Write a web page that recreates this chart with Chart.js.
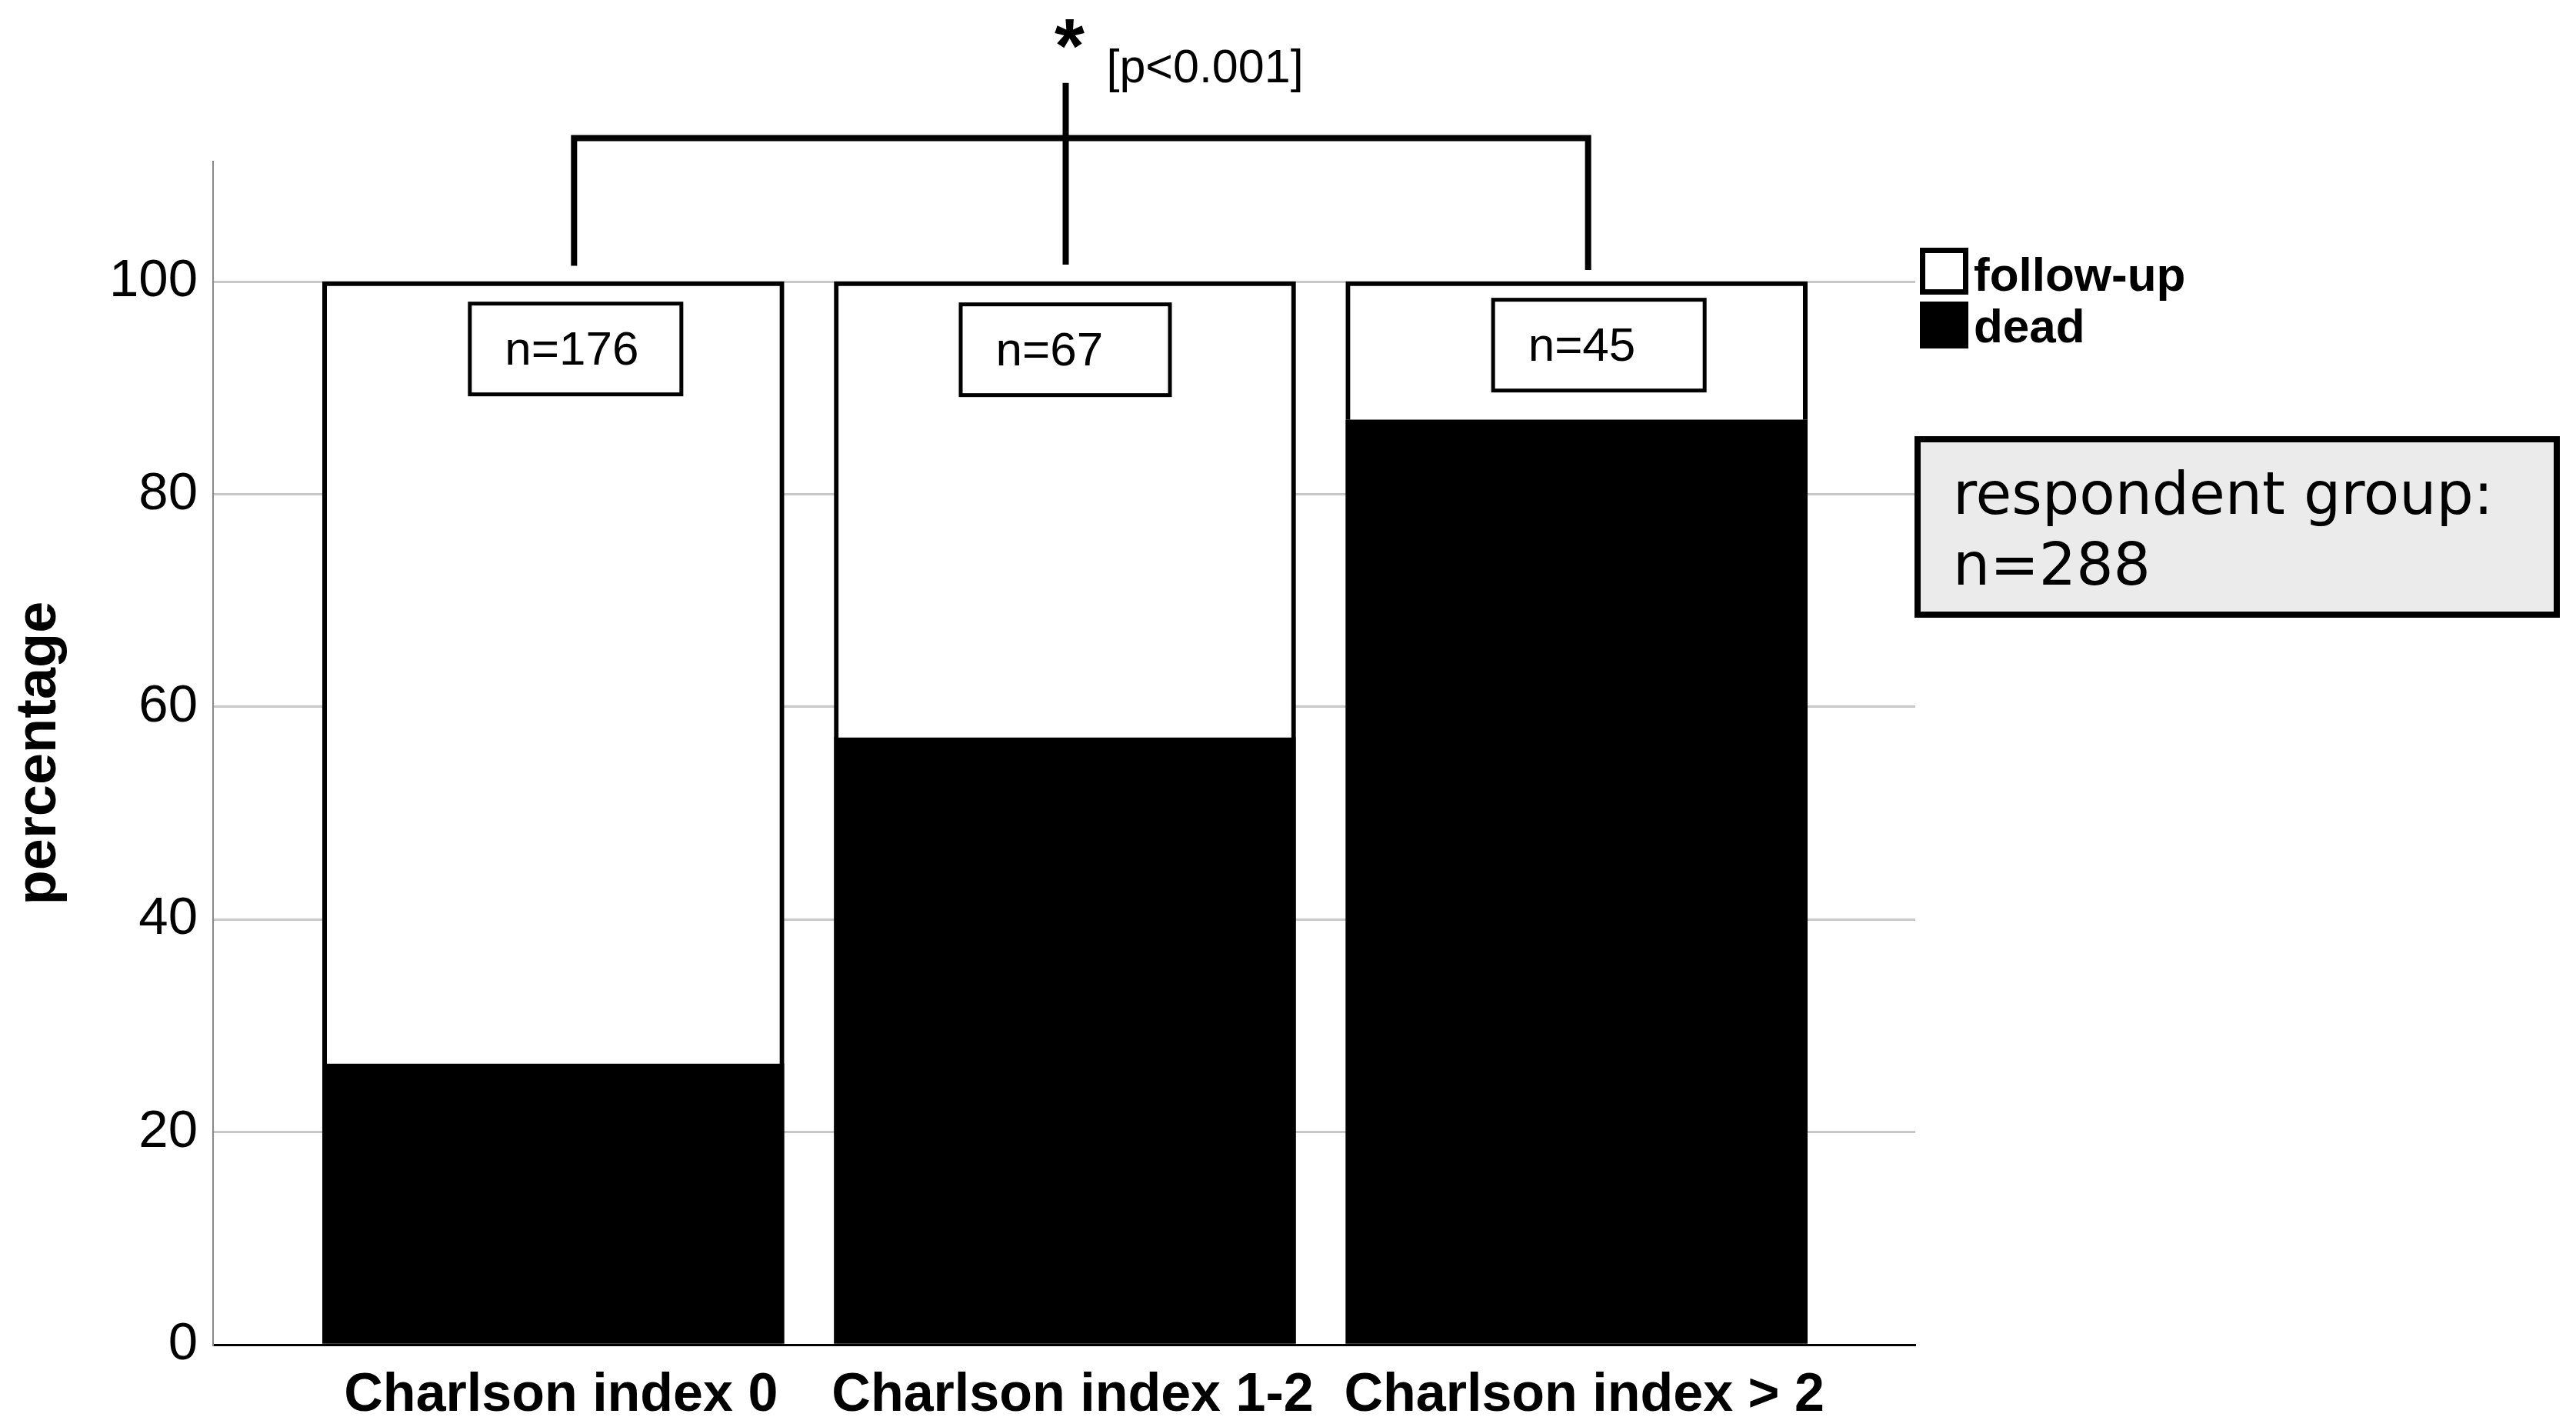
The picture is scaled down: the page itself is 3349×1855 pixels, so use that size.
<!DOCTYPE html>
<html lang="en">
<head>
    <meta charset="UTF-8">
    <title>Charlson index</title>
    <script src="https://cdn.jsdelivr.net/npm/chart.js"></script>
    <style>
        body { margin: 0; background: #fff; }
        canvas { display: block; }
    </style>
</head>
<body>

<canvas id="barChart" width="3349" height="1855"></canvas>

<script>
    // values
    const categories = ['Charlson index 0', 'Charlson index 1-2', 'Charlson index > 2'];
    const deadPct = [26.4, 57.1, 87.0];
    const followUpPct = [73.6, 42.9, 13.0];
    const groupN = ['n=176', 'n=67', 'n=45'];
    const yTicks = [0, 20, 40, 60, 80, 100];
    const seriesNames = ['follow-up', 'dead'];
    const pText = '[p<0.001]';
    const totalLines = ['respondent group:', 'n=288'];

    const ARIAL = "'Liberation Sans', Arial, sans-serif";

    // n= boxes, bracket, legend and the grey info box
    const annotations = {
        id: 'annotations',
        afterDraw(chart) {
            const ctx = chart.ctx;
            const x = chart.scales.x;
            const y = chart.scales.y;
            const centers = categories.map((c, i) => x.getPixelForValue(i + 1));
            const top100 = y.getPixelForValue(100);

            ctx.save();

            // n= boxes inside the bars
            const boxDx = [-111, -138, -111];
            const boxDy = [26, 27, 21];
            const boxW = [280, 277, 280];
            ctx.lineWidth = 5;
            ctx.strokeStyle = '#000';
            ctx.font = '62px ' + ARIAL;
            ctx.fillStyle = '#000';
            ctx.textAlign = 'left';
            ctx.textBaseline = 'alphabetic';
            groupN.forEach((txt, i) => {
                const bx = centers[i] + boxDx[i];
                const by = top100 + boxDy[i];
                ctx.fillStyle = '#fff';
                ctx.fillRect(bx, by, boxW[i], 123);
                ctx.strokeRect(bx + 2.5, by + 2.5, boxW[i] - 5, 118);
                ctx.fillStyle = '#000';
                ctx.fillText(txt, bx + 48, by + 82);
            });

            // significance bracket
            const yBar = y.getPixelForValue(113.5);
            const xl = centers[0] + 27;
            const xr = centers[2] + 15;
            const xm = centers[1] + 1;
            ctx.lineWidth = 8;
            ctx.lineCap = 'butt';
            ctx.beginPath();
            ctx.moveTo(xl, y.getPixelForValue(101.5));
            ctx.lineTo(xl, yBar - 4);
            ctx.moveTo(xl - 4, yBar);
            ctx.lineTo(xr + 4, yBar);
            ctx.moveTo(xr, yBar - 4);
            ctx.lineTo(xr, y.getPixelForValue(101.1));
            ctx.moveTo(xm, y.getPixelForValue(118.7));
            ctx.lineTo(xm, y.getPixelForValue(101.6));
            ctx.stroke();

            ctx.textAlign = 'center';
            ctx.font = 'bold 100px ' + ARIAL;
            ctx.fillText('*', xm + 5, 94);
            ctx.textAlign = 'left';
            ctx.font = '61px ' + ARIAL;
            ctx.fillText(pText, xm + 53, 107);

            // legend
            const lx = x.right + 6;
            ctx.lineWidth = 7;
            ctx.fillStyle = '#fff';
            ctx.fillRect(lx, 322, 63, 61);
            ctx.strokeRect(lx + 3.5, 325.5, 56, 54);
            ctx.fillStyle = '#000';
            ctx.fillRect(lx, 392, 63, 61);
            ctx.font = 'bold 62px ' + ARIAL;
            ctx.fillText(seriesNames[0], lx + 70, 378);
            ctx.fillText(seriesNames[1], lx + 70, 445);

            // respondent group box
            const rx = x.right - 1;
            ctx.fillStyle = '#ebebeb';
            ctx.fillRect(rx, 567, 839, 236);
            ctx.lineWidth = 8;
            ctx.strokeStyle = '#000';
            ctx.strokeRect(rx + 4, 571, 831, 228);
            ctx.fillStyle = '#000';
            ctx.font = "76px 'DejaVu Sans', Verdana, sans-serif";
            ctx.fillText(totalLines[0], rx + 50, 668);
            ctx.fillText(totalLines[1], rx + 50, 760);

            ctx.restore();
        }
    };

    const ctx = document.getElementById('barChart').getContext('2d');

    const barChart = new Chart(ctx, {
        type: 'bar',
        data: {
            datasets: [{
                label: seriesNames[1],
                data: deadPct.map((v, i) => ({ x: i + 1, y: v })),
                backgroundColor: '#000',
                borderColor: '#000',
                borderWidth: 0,
                barThickness: 600
            }, {
                label: seriesNames[0],
                data: followUpPct.map((v, i) => ({ x: i + 1, y: v })),
                backgroundColor: '#fff',
                borderColor: '#000',
                borderWidth: 6,
                barThickness: 600
            }]
        },
        options: {
            responsive: false,
            animation: false,
            layout: {
                padding: { left: 0, right: 859, top: 210, bottom: 0 }
            },
            plugins: {
                legend: { display: false },
                tooltip: { enabled: false }
            },
            scales: {
                x: {
                    type: 'linear',
                    stacked: true,
                    offset: false,
                    min: 0.335,
                    max: 3.662,
                    afterBuildTicks: (scale) => {
                        scale.ticks = categories.map((c, i) => ({ value: i + 1 }));
                    },
                    afterFit: (scale) => { scale.height = 107; },
                    grid: { display: false, offset: false, drawTicks: false },
                    border: { display: true, color: '#000', width: 3 },
                    ticks: {
                        autoSkip: false,
                        maxRotation: 0,
                        padding: 25,
                        labelOffset: 10,
                        color: '#000',
                        font: { family: ARIAL, size: 70, weight: 'bold' },
                        callback: (v) => categories[Math.round(v) - 1]
                    }
                },
                y: {
                    stacked: true,
                    min: 0,
                    max: 111.3,
                    afterBuildTicks: (scale) => {
                        scale.ticks = yTicks.map(v => ({ value: v }));
                    },
                    afterFit: (scale) => { scale.width = 277; },
                    grid: {
                        drawTicks: false,
                        lineWidth: 3,
                        color: (c) => c.tick && c.tick.value === 0 ? 'rgba(0,0,0,0)' : '#c8c8c8'
                    },
                    border: { display: true, color: '#888', width: 2 },
                    ticks: {
                        padding: 20,
                        color: '#000',
                        font: { family: ARIAL, size: 69 }
                    },
                    title: {
                        display: true,
                        text: 'percentage',
                        color: '#000',
                        padding: { top: 7, bottom: 0 },
                        font: { family: ARIAL, size: 74, weight: 'bold' }
                    }
                }
            }
        },
        plugins: [annotations]
    });
</script>

</body>
</html>
